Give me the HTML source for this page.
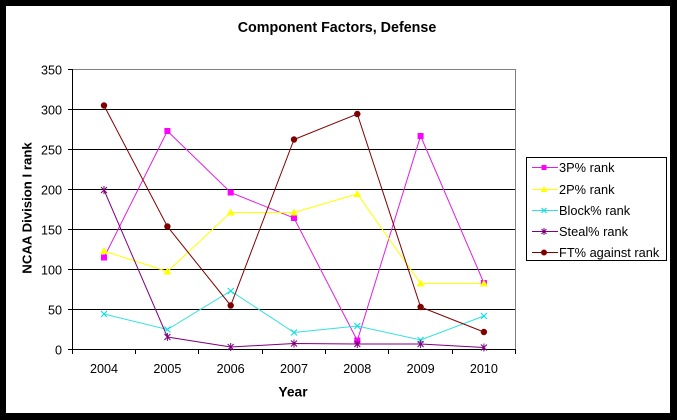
<!DOCTYPE html>
<html>
<head>
<meta charset="utf-8">
<style>
html,body{margin:0;padding:0;background:#000;}
svg{display:block;}
text{font-family:"Liberation Sans",Arial,sans-serif;fill:#000;}
</style>
</head>
<body>
<svg width="677" height="420" viewBox="0 0 677 420" xmlns="http://www.w3.org/2000/svg">
  <rect x="0" y="0" width="677" height="420" fill="#000"/>
  <rect x="6" y="6" width="664" height="407" fill="#fff"/>

  <!-- title -->
  <text x="337" y="32" font-size="14.3" font-weight="bold" text-anchor="middle">Component Factors, Defense</text>

  <!-- plot area -->
  <rect x="72.5" y="69.5" width="443" height="280" fill="#fff" stroke="#808080" stroke-width="1"/>
  <!-- gridlines -->
  <g stroke="#000" stroke-width="1">
    <line x1="72" y1="109.5" x2="515" y2="109.5"/>
    <line x1="72" y1="149.5" x2="515" y2="149.5"/>
    <line x1="72" y1="189.5" x2="515" y2="189.5"/>
    <line x1="72" y1="229.5" x2="515" y2="229.5"/>
    <line x1="72" y1="269.5" x2="515" y2="269.5"/>
    <line x1="72" y1="309.5" x2="515" y2="309.5"/>
  </g>
  <!-- axes -->
  <g stroke="#000" stroke-width="1">
    <line x1="72.5" y1="69" x2="72.5" y2="350"/>
    <line x1="72" y1="349.5" x2="516" y2="349.5"/>
    <!-- y ticks -->
    <line x1="68" y1="69.5" x2="72" y2="69.5"/>
    <line x1="68" y1="109.5" x2="72" y2="109.5"/>
    <line x1="68" y1="149.5" x2="72" y2="149.5"/>
    <line x1="68" y1="189.5" x2="72" y2="189.5"/>
    <line x1="68" y1="229.5" x2="72" y2="229.5"/>
    <line x1="68" y1="269.5" x2="72" y2="269.5"/>
    <line x1="68" y1="309.5" x2="72" y2="309.5"/>
    <line x1="68" y1="349.5" x2="72" y2="349.5"/>
    <!-- x ticks -->
    <line x1="72.5" y1="349" x2="72.5" y2="354"/>
    <line x1="135.5" y1="349" x2="135.5" y2="354"/>
    <line x1="198.5" y1="349" x2="198.5" y2="354"/>
    <line x1="262.5" y1="349" x2="262.5" y2="354"/>
    <line x1="325.5" y1="349" x2="325.5" y2="354"/>
    <line x1="388.5" y1="349" x2="388.5" y2="354"/>
    <line x1="452.5" y1="349" x2="452.5" y2="354"/>
    <line x1="515.5" y1="349" x2="515.5" y2="354"/>
  </g>

  <!-- y tick labels -->
  <g font-size="12.6" text-anchor="end">
    <text x="62" y="74.5">350</text>
    <text x="62" y="114.5">300</text>
    <text x="62" y="154.5">250</text>
    <text x="62" y="194.5">200</text>
    <text x="62" y="234.5">150</text>
    <text x="62" y="274.5">100</text>
    <text x="62" y="314.5">50</text>
    <text x="62" y="354.5">0</text>
  </g>
  <!-- x tick labels -->
  <g font-size="12.6" text-anchor="middle">
    <text x="104" y="373">2004</text>
    <text x="167.4" y="373">2005</text>
    <text x="230.7" y="373">2006</text>
    <text x="294" y="373">2007</text>
    <text x="357.3" y="373">2008</text>
    <text x="420.6" y="373">2009</text>
    <text x="483.9" y="373">2010</text>
  </g>
  <text x="293" y="396.5" font-size="13.8" font-weight="bold" text-anchor="middle">Year</text>
  <text transform="translate(31.5,208) rotate(-90)" font-size="13.2" font-weight="bold" text-anchor="middle">NCAA Division I rank</text>

  <!-- series lines -->
  <g fill="none" stroke-width="1">
    <!-- 3P% -->
    <polyline stroke="#E020E0" points="104,257.5 167.4,131 230.7,192.5 294,218 357.3,340.5 420.6,136 483.9,283"/>
    <!-- 2P% -->
    <polyline stroke="#FFFF00" points="104,251 167.4,271.5 230.7,212.5 294,212.5 357.3,194 420.6,283.5 483.9,283.5"/>
    <!-- Block% -->
    <polyline stroke="#33E0E0" points="104,314 167.4,329.5 230.7,291 294,332.5 357.3,326 420.6,340 483.9,316"/>
    <!-- Steal% -->
    <polyline stroke="#800080" points="104,190 167.4,337 230.7,347 294,343.5 357.3,344 420.6,344 483.9,347.5"/>
    <!-- FT% -->
    <polyline stroke="#800000" points="104,105.5 167.4,226.5 230.7,305.5 294,139.5 357.3,114 420.6,307 483.9,332"/>
  </g>

  <!-- markers 3P (squares) -->
  <g fill="#FF00FF">
    <rect x="101" y="254.5" width="6" height="6"/>
    <rect x="164.4" y="128" width="6" height="6"/>
    <rect x="227.7" y="189.5" width="6" height="6"/>
    <rect x="291" y="215" width="6" height="6"/>
    <rect x="354.3" y="337.5" width="6" height="6"/>
    <rect x="417.6" y="133" width="6" height="6"/>
    <rect x="480.9" y="280" width="6" height="6"/>
  </g>
  <!-- markers 2P (triangles) -->
  <g fill="#FFFF00">
    <polygon points="104,247 100,254 108,254"/>
    <polygon points="167.4,267.5 163.4,274.5 171.4,274.5"/>
    <polygon points="230.7,208.5 226.7,215.5 234.7,215.5"/>
    <polygon points="294,208.5 290,215.5 298,215.5"/>
    <polygon points="357.3,190 353.3,197 361.3,197"/>
    <polygon points="420.6,279.5 416.6,286.5 424.6,286.5"/>
    <polygon points="483.9,279.5 479.9,286.5 487.9,286.5"/>
  </g>
  <!-- markers Block (x) -->
  <g stroke="#00E0E0" stroke-width="1">
    <path d="M101,311 l6,6 M107,311 l-6,6"/>
    <path d="M164.4,326.5 l6,6 M170.4,326.5 l-6,6"/>
    <path d="M227.7,288 l6,6 M233.7,288 l-6,6"/>
    <path d="M291,329.5 l6,6 M297,329.5 l-6,6"/>
    <path d="M354.3,323 l6,6 M360.3,323 l-6,6"/>
    <path d="M417.6,337 l6,6 M423.6,337 l-6,6"/>
    <path d="M480.9,313 l6,6 M486.9,313 l-6,6"/>
  </g>
  <!-- markers Steal (asterisk) -->
  <g stroke="#800080" stroke-width="1">
    <path d="M101,187 l6,6 M107,187 l-6,6 M104,186 v8"/>
    <path d="M164.4,334 l6,6 M170.4,334 l-6,6 M167.4,333 v8"/>
    <path d="M227.7,344 l6,6 M233.7,344 l-6,6 M230.7,343 v8"/>
    <path d="M291,340.5 l6,6 M297,340.5 l-6,6 M294,339.5 v8"/>
    <path d="M354.3,341 l6,6 M360.3,341 l-6,6 M357.3,340 v8"/>
    <path d="M417.6,341 l6,6 M423.6,341 l-6,6 M420.6,340 v8"/>
    <path d="M480.9,344.5 l6,6 M486.9,344.5 l-6,6 M483.9,343.5 v8"/>
  </g>
  <!-- markers FT (circles) -->
  <g fill="#800000">
    <circle cx="104" cy="105.5" r="3.2"/>
    <circle cx="167.4" cy="226.5" r="3.2"/>
    <circle cx="230.7" cy="305.5" r="3.2"/>
    <circle cx="294" cy="139.5" r="3.2"/>
    <circle cx="357.3" cy="114" r="3.2"/>
    <circle cx="420.6" cy="307" r="3.2"/>
    <circle cx="483.9" cy="332" r="3.2"/>
  </g>

  <!-- legend -->
  <rect x="526.5" y="157.5" width="140" height="103" fill="#fff" stroke="#000" stroke-width="1"/>
  <g stroke-width="1">
    <line x1="532" y1="167.5" x2="558" y2="167.5" stroke="#E020E0"/>
    <rect x="541.5" y="165" width="5" height="5" fill="#FF00FF"/>
    <line x1="532" y1="189.5" x2="558" y2="189.5" stroke="#FFFF00"/>
    <polygon points="544,186 540.5,192 547.5,192" fill="#FFFF00"/>
    <line x1="532" y1="210.5" x2="558" y2="210.5" stroke="#33E0E0"/>
    <path d="M541.5,208 l5,5 M546.5,208 l-5,5" stroke="#00E0E0"/>
    <line x1="532" y1="231.5" x2="558" y2="231.5" stroke="#800080"/>
    <path d="M541.5,229 l5,5 M546.5,229 l-5,5 M544,228 v7" stroke="#800080"/>
    <line x1="532" y1="252.5" x2="558" y2="252.5" stroke="#800000"/>
    <circle cx="544" cy="252.5" r="3" fill="#800000"/>
  </g>
  <g font-size="12.8">
    <text x="559" y="172">3P% rank</text>
    <text x="559" y="194">2P% rank</text>
    <text x="559" y="215">Block% rank</text>
    <text x="559" y="236">Steal% rank</text>
    <text x="559" y="257">FT% against rank</text>
  </g>
</svg>
</body>
</html>
